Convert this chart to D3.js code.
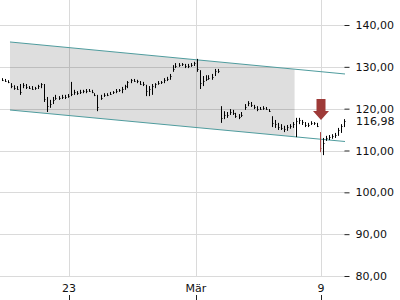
<!DOCTYPE html>
<html>
<head>
<meta charset="utf-8">
<script src="https://cdnjs.cloudflare.com/ajax/libs/d3/7.8.5/d3.min.js"></script>
<style>
    body { margin: 0; background: #fff; }
    svg { display: block; font-family: "DejaVu Sans", sans-serif; }
</style>
</head>
<body>
<svg id="chart" width="400" height="300"></svg>
<script>
// bar data, one entry per bar
var highs = [127.3, 127.1, 126.8, 126.1, 125.6, 125.4, 125.9, 126.1, 125.9, 125.4,
    125.4, 125.2, 125.7, 126.1, 125.9, 122.8, 122.1, 122.8, 123.3, 123.0,
    123.3, 123.3, 123.5, 126.4, 124.5, 124.2, 124.5, 124.5, 124.7, 124.7,
    124.5, 123.7, 123.3, 123.3, 123.7, 123.7, 124.0, 124.2, 124.7, 124.7,
    125.2, 125.7, 126.6, 127.1, 127.1, 126.9, 126.6, 126.4, 125.7, 125.4,
    125.9, 126.1, 126.6, 126.6, 127.3, 127.6, 128.3, 130.4, 130.9, 130.9,
    130.9, 130.7, 130.7, 130.9, 131.2, 131.9, 129.2, 127.8, 128.0, 128.0,
    128.3, 129.5, 129.5, 120.6, 119.4, 119.2, 119.9, 119.7, 119.0, 118.7,
    119.2, 121.1, 121.8, 121.6, 120.9, 120.6, 120.4, 120.6, 120.4, 119.9,
    118.2, 117.3, 116.6, 116.3, 115.9, 116.1, 116.3, 116.8, 117.8, 117.8,
    117.3, 116.8, 116.6, 117.0, 116.8, 116.6, 114.4, 113.0, 113.5, 113.7,
    113.9, 114.2, 115.4, 116.3, 117.5];
var lows = [126.6, 126.4, 126.1, 124.9, 124.5, 124.5, 123.3, 124.9, 124.7, 124.7,
    124.5, 124.5, 124.7, 124.9, 121.6, 119.2, 120.2, 121.1, 122.1, 122.1,
    122.3, 122.3, 122.6, 123.0, 123.3, 123.3, 123.5, 123.7, 123.7, 124.0,
    123.7, 123.0, 119.4, 122.1, 122.8, 123.0, 123.3, 123.5, 123.7, 124.0,
    123.7, 124.5, 124.9, 126.1, 126.4, 126.1, 125.7, 125.4, 123.0, 123.0,
    123.3, 124.9, 125.7, 125.9, 126.1, 126.6, 126.9, 128.8, 129.7, 130.0,
    130.2, 129.7, 129.7, 130.0, 130.2, 128.8, 124.7, 125.4, 126.6, 126.9,
    126.9, 127.8, 128.5, 116.6, 117.5, 117.8, 118.5, 118.5, 117.8, 117.5,
    118.0, 119.7, 120.6, 120.4, 119.9, 119.4, 119.7, 119.7, 119.7, 119.2,
    115.6, 115.4, 114.9, 114.9, 114.4, 114.7, 115.2, 115.4, 113.2, 116.3,
    116.1, 115.6, 115.6, 116.1, 116.1, 115.6, 109.6, 108.9, 112.3, 112.5,
    112.8, 113.0, 113.5, 114.2, 115.6];
var closes = [126.9, 126.7, 126.3, 125.4, 125.0, 124.8, 124.0, 125.6, 125.2, 125.0,
    124.8, 124.9, 125.3, 125.9, 122.3, 120.6, 121.0, 122.0, 122.6, 122.5,
    122.8, 122.7, 123.1, 123.6, 124.0, 123.8, 124.1, 124.2, 124.3, 124.3,
    124.0, 123.2, 120.5, 122.6, 123.3, 123.3, 123.6, 123.9, 124.3, 124.4,
    124.8, 125.3, 126.3, 126.8, 126.7, 126.5, 126.0, 125.9, 124.3, 124.8,
    125.5, 125.8, 126.2, 126.3, 126.9, 127.2, 127.8, 129.5, 130.3, 130.4,
    130.6, 130.1, 130.2, 130.5, 130.8, 129.4, 126.1, 126.6, 127.1, 127.4,
    127.6, 128.9, 129.0, 117.8, 118.6, 118.4, 119.2, 119.0, 118.2, 118.0,
    118.6, 120.4, 121.3, 120.9, 120.3, 119.9, 120.0, 120.1, 120.0, 119.5,
    116.5, 116.3, 115.6, 115.4, 115.1, 115.5, 115.8, 116.3, 117.0, 117.2,
    116.7, 116.1, 116.0, 116.6, 116.5, 115.9, 110.5, 111.8, 113.0, 113.2,
    113.5, 113.6, 115.0, 115.9, 116.98];

// axes
var tickLabels = ['23', 'Mär', '9'];
var tickPositions = [23, 65.33, 107];
var priceTicks = [80, 90, 100, 110, 120, 130, 140];
var lastPrice = 116.98;

// trend channel
var channelPositions = [3.33, 115];
var channelUpper = [135.94, 128.29];
var channelLower = [119.68, 112.15];
var channelFillEnd = 98.2;

// signal
var signalIndex = 106;
var arrowTipValue = 117.3;
var arrowTopValue = 122.3;

class PriceChart {
    constructor(id){
        this.svg = d3.select('svg#' + id);
        this.plotRight = 345;
        this.plotBottom = 276;
        this.x = d3.scaleLinear().domain([0, 115]).range([0, this.plotRight]);
        this.y = d3.scaleLinear().domain([80, 140]).range([this.plotBottom, 25]);
        var locale = d3.formatLocale({decimal: ',', thousands: '.', grouping: [3], currency: ['', '€']});
        this.format = locale.format('.2f');
    }

    Draw(){
        this.DrawGrid();
        this.DrawChannel();
        this.DrawBars();
        this.DrawArrow();
        this.DrawAxes();
    }

    // light grid lines
    DrawGrid(){
        var self = this;
        var grid = this.svg.append('g').attr('stroke', '#dadada').attr('stroke-width', 1);
        grid.selectAll('line.h')
            .data(priceTicks)
            .enter()
            .append('line')
            .attr('x1', 0)
            .attr('x2', this.plotRight)
            .attr('y1', function(d){ return Math.round(self.y(d)) + 0.5; })
            .attr('y2', function(d){ return Math.round(self.y(d)) + 0.5; });
        grid.selectAll('line.v')
            .data(tickPositions)
            .enter()
            .append('line')
            .attr('x1', function(d){ return Math.round(self.x(d)) + 0.5; })
            .attr('x2', function(d){ return Math.round(self.x(d)) + 0.5; })
            .attr('y1', 0)
            .attr('y2', this.plotBottom);
    }

    // gray channel area and its two borders
    DrawChannel(){
        var self = this;
        var upperAt = function(p){
            var t = (p - channelPositions[0]) / (channelPositions[1] - channelPositions[0]);
            return channelUpper[0] + t * (channelUpper[1] - channelUpper[0]);
        };
        var lowerAt = function(p){
            var t = (p - channelPositions[0]) / (channelPositions[1] - channelPositions[0]);
            return channelLower[0] + t * (channelLower[1] - channelLower[0]);
        };
        var p0 = channelPositions[0];
        var area = [
            [this.x(p0), this.y(upperAt(p0))],
            [this.x(channelFillEnd), this.y(upperAt(channelFillEnd))],
            [this.x(channelFillEnd), this.y(lowerAt(channelFillEnd))],
            [this.x(p0), this.y(lowerAt(p0))]
        ];
        this.svg.append('path')
            .attr('d', 'M' + area.join('L') + 'Z')
            .style('fill', 'rgba(0,0,0,0.13)');

        var line = d3.line()
            .x(function(d){ return self.x(d[0]); })
            .y(function(d){ return self.y(d[1]); });
        [channelUpper, channelLower].forEach(function(vals){
            self.svg.append('path')
                .attr('d', line([[channelPositions[0], vals[0]], [channelPositions[1], vals[1]]]))
                .style('fill', 'none')
                .style('stroke', '#4f9c9e')
                .style('stroke-width', 1);
        });
    }

    // high-low bars with close tick
    DrawBars(){
        var self = this;
        var bars = this.svg.append('g');
        var xOf = function(i){ return Math.round(self.x(i + 0.5)) + 0.5; };
        var colorOf = function(i){ return i === signalIndex ? '#b04a48' : '#000'; };
        bars.selectAll('line.hl')
            .data(highs)
            .enter()
            .append('line')
            .attr('x1', function(d, i){ return xOf(i); })
            .attr('x2', function(d, i){ return xOf(i); })
            .attr('y1', function(d){ return self.y(d); })
            .attr('y2', function(d, i){ return self.y(lows[i]); })
            .style('stroke', function(d, i){ return colorOf(i); })
            .style('stroke-width', 1);
        bars.selectAll('line.c')
            .data(closes)
            .enter()
            .append('line')
            .attr('x1', function(d, i){ return xOf(i); })
            .attr('x2', function(d, i){ return xOf(i) + 1; })
            .attr('y1', function(d){ return Math.round(self.y(d)) + 0.5; })
            .attr('y2', function(d){ return Math.round(self.y(d)) + 0.5; })
            .style('stroke', function(d, i){ return colorOf(i); })
            .style('stroke-width', 1);
    }

    // red arrow above the signal bar
    DrawArrow(){
        var cx = this.x(tickPositions[2]);
        var tip = this.y(arrowTipValue);
        var top = this.y(arrowTopValue);
        var neck = tip - 9;
        var pts = [
            [cx - 4.5, top], [cx + 4.5, top], [cx + 4.5, neck], [cx + 8, neck],
            [cx, tip], [cx - 8, neck], [cx - 4.5, neck]
        ];
        this.svg.append('path')
            .attr('d', 'M' + pts.join('L') + 'Z')
            .style('fill', '#9e3a38');
    }

    // price labels on the right, date labels below
    DrawAxes(){
        var self = this;
        var yAxis = d3.axisRight(this.y)
            .tickValues(priceTicks)
            .tickSize(5)
            .tickPadding(6)
            .tickFormat(this.format);
        var g = this.svg.append('g')
            .attr('transform', 'translate(' + (this.plotRight - 0.5) + ',0)')
            .call(yAxis);
        g.select('.domain').remove();
        g.selectAll('line').style('stroke', '#222');
        g.selectAll('text')
            .style('font-size', '11px')
            .style('font-family', '"DejaVu Sans", sans-serif')
            .style('fill', '#111');

        this.svg.append('text')
            .attr('x', this.plotRight + 11)
            .attr('y', this.y(lastPrice))
            .attr('dy', '0.32em')
            .style('font-size', '11px')
            .style('fill', '#111')
            .text(this.format(lastPrice));

        var xg = this.svg.append('g');
        xg.selectAll('text')
            .data(tickPositions)
            .enter()
            .append('text')
            .attr('x', function(d){ return self.x(d); })
            .attr('y', 292)
            .attr('text-anchor', 'middle')
            .style('font-size', '11px')
            .style('fill', '#111')
            .text(function(d, i){ return tickLabels[i]; });
        xg.selectAll('line')
            .data(tickPositions)
            .enter()
            .append('line')
            .attr('x1', function(d){ return Math.round(self.x(d)) + 0.5; })
            .attr('x2', function(d){ return Math.round(self.x(d)) + 0.5; })
            .attr('y1', 295)
            .attr('y2', 300)
            .style('stroke', '#222');
    }
}

var chart = new PriceChart('chart');
chart.Draw();
</script>
</body>
</html>
